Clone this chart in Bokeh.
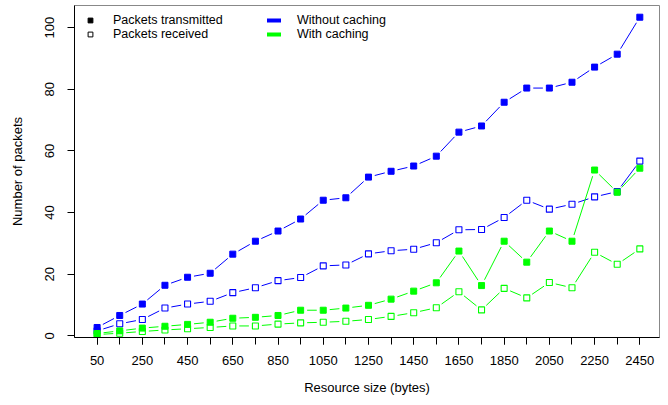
import math
from bokeh.plotting import figure
from bokeh.models import (ColumnDataSource, FixedTicker, Legend, LegendItem, Range1d)
from bokeh.embed import file_html
from bokeh.resources import INLINE

# ---------------- data ----------------
sizes = [50, 150, 250, 350, 450, 550, 650, 750, 850, 950, 1050, 1150, 1250,
         1350, 1450, 1550, 1650, 1750, 1850, 1950, 2050, 2150, 2250, 2350, 2450]
tx_nocache = [2.7, 6.6, 10.3, 16.4, 19.0, 20.3, 26.5, 30.7, 34.0, 37.9, 44.0, 44.8, 51.5,
              53.4, 55.1, 58.3, 66.1, 68.1, 75.8, 80.4, 80.4, 82.3, 87.2, 91.4, 103.4]
rx_nocache = [1.6, 3.9, 5.3, 9.0, 10.3, 11.2, 14.0, 15.6, 17.9, 18.9, 22.7, 23.0, 26.6,
              27.6, 28.1, 30.2, 34.4, 34.5, 38.4, 44.0, 41.1, 42.7, 45.1, 46.8, 56.7]
tx_cache = [0.75, 1.6, 2.5, 3.1, 3.7, 4.4, 5.7, 6.0, 6.6, 8.3, 8.3, 9.0, 9.9,
            11.9, 14.5, 17.2, 27.5, 16.3, 30.7, 23.9, 34.0, 30.7, 53.8, 46.6, 54.4]
rx_cache = [0.4, 0.85, 1.4, 1.9, 2.3, 2.7, 3.2, 3.2, 3.8, 4.2, 4.4, 4.7, 5.3,
            6.3, 7.5, 9.1, 14.3, 8.4, 15.4, 12.3, 17.3, 15.6, 27.1, 23.2, 28.2]
y_ticks = [0, 20, 40, 60, 80, 100]
x_labelled = [50, 250, 450, 650, 850, 1050, 1250, 1450, 1650, 1850, 2050, 2250, 2450]

BLUE = "#0000ff"
GREEN = "#00ff00"
FONT = "Liberation Sans"
FS = "13px"
LEG_FS = "12.5px"

X0, X1 = -50, 2537
Y0, Y1 = -0.55, 107.2
FW, FH = 585, 332

p = figure(width=660, height=397, frame_width=FW, frame_height=FH,
           x_range=Range1d(X0, X1), y_range=Range1d(Y0, Y1),
           output_backend="svg", toolbar_location=None,
           min_border_left=74, min_border_right=1, min_border_top=5,
           min_border_bottom=60)
p.background_fill_color = "white"
p.border_fill_color = "white"
p.outline_line_color = "#888888"
p.outline_line_width = 1
p.xgrid.visible = False
p.ygrid.visible = False

sx = FW / (X1 - X0)
sy = FH / (Y1 - Y0)


def gapped(xs, ys, gap=6.5):
    x0s, y0s, x1s, y1s = [], [], [], []
    for i in range(len(xs) - 1):
        dx = xs[i + 1] - xs[i]
        dy = ys[i + 1] - ys[i]
        L = math.hypot(dx * sx, dy * sy)
        if L <= 2 * gap:
            continue
        f = gap / L
        x0s.append(xs[i] + dx * f)
        y0s.append(ys[i] + dy * f)
        x1s.append(xs[i + 1] - dx * f)
        y1s.append(ys[i + 1] - dy * f)
    return dict(x0=x0s, y0=y0s, x1=x1s, y1=y1s)


series = [
    (rx_nocache, BLUE, False),
    (rx_cache, GREEN, False),
    (tx_nocache, BLUE, True),
    (tx_cache, GREEN, True),
]
for ys, col, filled in series:
    p.segment(x0="x0", y0="y0", x1="x1", y1="y1",
              source=ColumnDataSource(gapped(sizes, ys)),
              line_color=col, line_width=1)
for ys, col, filled in series:
    if filled:
        p.scatter(sizes, ys, marker="square", size=6, fill_color=col,
                  line_color=col, line_width=1)
    else:
        p.scatter(sizes, ys, marker="square", size=6, fill_alpha=0,
                  line_color=col, line_width=1.1)

# ---------------- axes ----------------
for ax in (p.xaxis[0], p.yaxis[0]):
    ax.axis_line_color = "black"
    ax.major_tick_line_color = "black"
    ax.major_tick_out = 7
    ax.major_tick_in = 0
    ax.major_label_text_font = FONT
    ax.major_label_text_font_size = FS
    ax.major_label_text_color = "black"
    ax.axis_label_text_font = FONT
    ax.axis_label_text_font_size = FS
    ax.axis_label_text_font_style = "normal"
    ax.axis_label_text_color = "black"

p.xaxis.ticker = FixedTicker(ticks=x_labelled, minor_ticks=sizes)
p.xaxis.minor_tick_line_color = "black"
p.xaxis.minor_tick_out = 7
p.xaxis.minor_tick_in = 0
p.xaxis.axis_label = "Resource size (bytes)"
p.xaxis.major_label_standoff = 11
p.xaxis.axis_label_standoff = 12

p.yaxis.ticker = FixedTicker(ticks=y_ticks)
p.yaxis.minor_tick_line_color = None
p.yaxis.major_label_orientation = "vertical"
p.yaxis.axis_label = "Number of packets"
p.yaxis.major_label_standoff = 13
p.yaxis.axis_label_standoff = 18

# ---------------- legends ----------------
nan = float("nan")
dummy = lambda: ColumnDataSource(dict(x=[nan, nan], y=[nan, nan]))
r_tx = p.scatter("x", "y", source=dummy(), marker="square", size=5,
                 fill_color="black", line_color="black")
r_rx = p.scatter("x", "y", source=dummy(), marker="square", size=6,
                 fill_alpha=0, line_color="black", line_width=1)
r_nc = p.line("x", "y", source=dummy(), line_color=BLUE, line_width=4,
              line_cap="round")
r_c = p.line("x", "y", source=dummy(), line_color=GREEN, line_width=4,
             line_cap="round")

ITEM_H = 15


def add_item(label, renderer, x, row_center):
    lg = Legend(items=[LegendItem(label=label, renderers=[renderer])],
                location=(x, FH - row_center - ITEM_H / 2),
                orientation="vertical",
                border_line_color=None, background_fill_alpha=0,
                padding=0, margin=0, spacing=0,
                glyph_width=14, glyph_height=12, label_height=12,
                label_standoff=16,
                label_text_font=FONT, label_text_font_size=LEG_FS,
                label_text_color="black")
    p.add_layout(lg, "center")


add_item("Packets transmitted", r_tx, 9, 14.2)
add_item("Packets received", r_rx, 9, 28.2)
add_item("Without caching", r_nc, 193, 14.2)
add_item("With caching", r_c, 193, 28.2)

open("out.html", "w").write(file_html(p, INLINE))
